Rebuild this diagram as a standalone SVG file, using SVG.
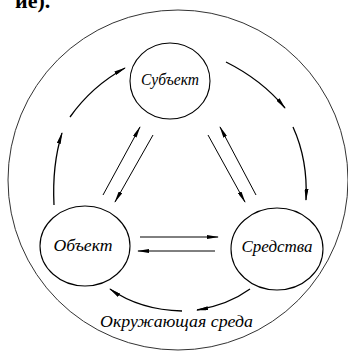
<svg xmlns="http://www.w3.org/2000/svg" width="348" height="352" viewBox="0 0 348 352">
<defs>
<marker id="ah" markerUnits="userSpaceOnUse" markerWidth="12" markerHeight="4" refX="11" refY="2" orient="auto">
<path d="M0,0 L12,2 L0,4 z" fill="#000"/>
</marker>
<style>
.node ellipse{fill:#fff;stroke:#000;stroke-width:1.1}
.lbl{font-family:"Liberation Serif",serif;font-style:italic;font-size:17px;fill:#000}
.c path{fill:none;stroke:#000;stroke-width:1;marker-end:url(#ah)}
.c .arc{stroke-width:1.3}
</style>
</defs>
<rect width="348" height="352" fill="#fff"/>
<text x="15" y="8" font-family="Liberation Serif,serif" font-size="22" font-weight="bold">ие).</text>
<g id="environment">
<circle cx="178" cy="180" r="170" fill="none" stroke="#333" stroke-width="1"/>
<text class="lbl" x="100" y="327" textLength="153" lengthAdjust="spacingAndGlyphs">Окружающая среда</text>
</g>
<g id="subject" class="node">
<ellipse cx="170" cy="81" rx="40" ry="38"/>
<text class="lbl" x="170" y="85" text-anchor="middle" textLength="58" lengthAdjust="spacingAndGlyphs">Субъект</text>
</g>
<g id="object" class="node">
<ellipse cx="85" cy="246" rx="45" ry="40"/>
<text class="lbl" x="83" y="251" text-anchor="middle" textLength="59" lengthAdjust="spacingAndGlyphs">Объект</text>
</g>
<g id="means" class="node">
<ellipse cx="277" cy="249" rx="46" ry="41"/>
<text class="lbl" x="277" y="252" text-anchor="middle" textLength="71" lengthAdjust="spacingAndGlyphs">Средства</text>
</g>
<g id="connectors" class="c">
<path class="arc" d="M54,205 Q52,165 62,133"/>
<path class="arc" d="M70,117 Q92,86 125,68"/>
<path class="arc" d="M226,62 Q262,80 285,108"/>
<path class="arc" d="M293,127 Q308,160 306,200"/>
<path class="arc" d="M250,289 Q228,305 197,310"/>
<path class="arc" d="M182,311 Q140,310 110,289"/>
<path d="M103,195 L140,127"/>
<path d="M153,135 L115,202"/>
<path d="M208,135 L245,202"/>
<path d="M256,195 L220,127"/>
<path d="M140,237 L218,237"/>
<path d="M215,251 L138,251"/>
</g>
</svg>
